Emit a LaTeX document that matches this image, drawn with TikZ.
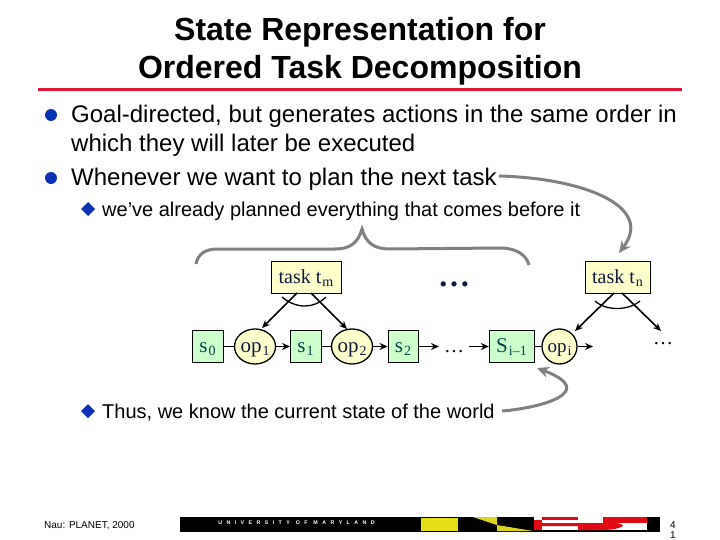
\documentclass[tikz,border=0pt]{standalone}
\usepackage{fontspec}
\setmainfont{Liberation Sans}
\newfontfamily\timesfont{Liberation Serif}
\usetikzlibrary{arrows.meta,shapes.geometric}
\definecolor{statefill}{RGB}{204,255,204}
\definecolor{opfill}{RGB}{255,255,204}
\definecolor{bulletblue}{RGB}{10,50,180}
\definecolor{rulered}{RGB}{225,20,50}
\definecolor{curvegray}{RGB}{128,128,128}
\definecolor{statetext}{RGB}{0,70,70}
\definecolor{inktext}{RGB}{15,25,60}
\definecolor{flagred}{RGB}{225,10,20}
\def\fs#1{\fontsize{#1}{#1}\selectfont}
\def\low#1{\kern1pt\raisebox{-3pt}{\fs{14}#1}}
\def\drawbullet{\fill[bulletblue]}
\def\drawgray{\draw[curvegray,line width=3pt]}
\def\fillflag{\fill[flagred]}
\tikzset{
  statebox/.style={draw=black,fill=statefill,minimum width=30.5,minimum height=32,inner sep=0pt,text height=11pt,text depth=0pt,text=statetext,font=\timesfont\fs{21}},
  taskbox/.style={draw=black,fill=opfill,minimum height=32,inner sep=0pt,text height=12pt,text depth=0pt,text=inktext,font=\timesfont\fs{20}},
  opnode/.style={draw=black,line width=1.3pt,fill=opfill,ellipse,inner sep=0pt,text height=11pt,text depth=0pt,text=inktext,font=\timesfont\fs{21}},
  dotsnode/.style={inner sep=0pt,text height=11pt,text depth=0pt,outer sep=5pt,font=\timesfont\fs{20}},
  bodytext/.style={anchor=base west,inner sep=0pt,font=\fs{24}},
  subtext/.style={anchor=base west,inner sep=0pt,font=\fs{20}},
  titletext/.style={anchor=base,inner sep=0pt,font=\bfseries\fs{32}},
  darkarrow/.style={draw=black,line width=1.6pt,-{Stealth[length=8pt,width=7pt]}},
  darkline/.style={draw=black,line width=1.6pt},
  grayarrow/.style={-{Stealth[length=12pt,width=11pt]}},
}
\begin{document}
\begin{tikzpicture}[x=1pt,y=-1pt]
\useasboundingbox (0,0) rectangle (720,540);

% -------- title ---------
\node[titletext] (title1) at (360,41) {State Representation for};
\node[titletext] (title2) at (360,79) {Ordered Task Decomposition};
\draw[rulered,line width=3pt] (38,90) -- (682,90);

% -------- bullets ---------
\drawbullet (51,115) circle (6);
\drawbullet (51,178) circle (6);
\drawbullet (81,209) -- (88,202) -- (95,209) -- (88,216) -- cycle;
\drawbullet (81,411) -- (88,404) -- (95,411) -- (88,418) -- cycle;
\node[bodytext] (goal) at (71,123) {Goal-directed, but generates actions in the same order in};
\node[bodytext] (which) at (71,152) {which they will later be executed};
\node[bodytext] (whenever) at (71,186) {Whenever we want to plan the next task};
\node[subtext] (planned) at (102,216) {we've already planned everything that comes before it};
\node[subtext] (thus) at (102,418) {Thus, we know the current state of the world};

% -------- tasks and state chain ---------
\node[taskbox,minimum width=70] (tm) at (306,277) {task t\low{m}};
\node[taskbox,minimum width=65.5] (tn) at (617.5,277) {task t\low{n}};
\node[statebox] (s0) at (207.5,346.5) {s\low{0}};
\node[opnode,minimum width=40,minimum height=35] (op1) at (255,346.5) {op\low{1}};
\node[statebox] (s1) at (305.5,346.5) {s\low{1}};
\node[opnode,minimum width=40,minimum height=35] (op2) at (352,346.5) {op\low{2}};
\node[statebox] (s2) at (403,346.5) {s\low{2}};
\node[dotsnode] (dots1) at (454,346.5) {\dots};
\node[statebox,minimum width=45] (si) at (511.5,346.5) {S\low{i\textendash1}};
\node[opnode,minimum width=35,minimum height=35,font=\timesfont\fs{19}] (opi) at (559.5,346.5) {op\low{i}};
\node[inner sep=0pt,font=\timesfont\fs{20}] (dots2) at (663,344) {\dots};
\node[inner sep=0pt,text=inktext,font=\timesfont\bfseries\fs{32}] (dots3) at (454,284) {\dots};
\coordinate (opiout) at (593,346.5);

\draw[darkline] (s0) -- (op1);
\draw[darkarrow] (op1) -- (s1);
\draw[darkline] (s1) -- (op2);
\draw[darkarrow] (op2) -- (s2);
\draw[darkarrow] (s2) -- (dots1);
\draw[darkarrow] (dots1) -- (si);
\draw[darkline] (si) -- (opi);
\draw[darkarrow] (opi) -- (opiout);

% -------- decomposition arrows ---------
\coordinate (tmleft) at (297,293);
\coordinate (tmright) at (311,293);
\coordinate (tnleft) at (614,293);
\coordinate (tnright) at (622,293);
\coordinate (opleftin) at (262,328);
\coordinate (oprightin) at (347,329);
\coordinate (opiin) at (575,331);
\coordinate (dotsin) at (661,331);
\draw[darkarrow] (tmleft) -- (opleftin);
\draw[darkarrow] (tmright) -- (oprightin);
\draw[darkarrow] (tnleft) -- (opiin);
\draw[darkarrow] (tnright) -- (dotsin);
\draw[black,line width=1.3pt] (282,297) .. controls (296,309) and (314,309) .. (326,297);
\draw[black,line width=1.3pt] (595,301) .. controls (606,311) and (628,311) .. (640,301);

% -------- gray brace and curved arrows ---------
\drawgray (196,264) .. controls (198,254) and (205,249) .. (218,249)
  -- (335,249) .. controls (350,249) and (358,243) .. (362,229)
  .. controls (366,243) and (374,249) .. (390,249)
  -- (500,248) .. controls (515,248) and (526,254) .. (529,265);
\coordinate (taskstart) at (499,176);
\coordinate (tasktip) at (619,253);
\drawgray[grayarrow] (taskstart) .. controls (580,178) and (655,205) .. (tasktip);
\coordinate (worldstart) at (502,411);
\coordinate (worldtip) at (537,368);
\drawgray[grayarrow] (worldstart) .. controls (540,408) and (600,392) .. (worldtip);

% -------- footer ---------
\node[anchor=base west,inner sep=0pt,font=\fs{10}] (nau) at (44,528) {Nau: PLANET, 2000};
\fill[black] (180,516.5) rectangle (660,531.5);
\node[inner sep=0pt,text=white,font=\bfseries\fs{5.3}] (umd) at (296.5,523) {U~~~N~~~I~~~V~~~E~~~R~~~S~~~I~~~T~~~Y~~~~O~~~F~~~~M~~~A~~~R~~~Y~~~L~~~A~~~N~~~D};
\fill[yellow!90!black] (421,518) rectangle (458,531);
\fill[yellow!85!black] (473,517) -- (497,517) -- (497,525) -- cycle;
\fill[yellow!85!black] (497,525) -- (533,531) -- (497,531) -- cycle;
\fill[white] (534,517) rectangle (647,530);
\fillflag (542,517) rectangle (578,520);
\fillflag (534,523) -- (615,523) .. controls (620,523) and (623,525) .. (623,526) .. controls (621,528) and (612,530) .. (603,530) -- (578,530) -- (578,526) -- (534,526) -- cycle;
\fillflag (534,520) rectangle (542,530);
\fillflag (603,517) rectangle (647,523);
\fill[white] (542,527.5) rectangle (578,530);
\node[anchor=base,inner sep=0pt,font=\fs{10}] (pg4) at (673,528) {4};
\node[anchor=base,inner sep=0pt,font=\fs{10}] (pg1) at (673,538.5) {1};
\end{tikzpicture}
\end{document}
